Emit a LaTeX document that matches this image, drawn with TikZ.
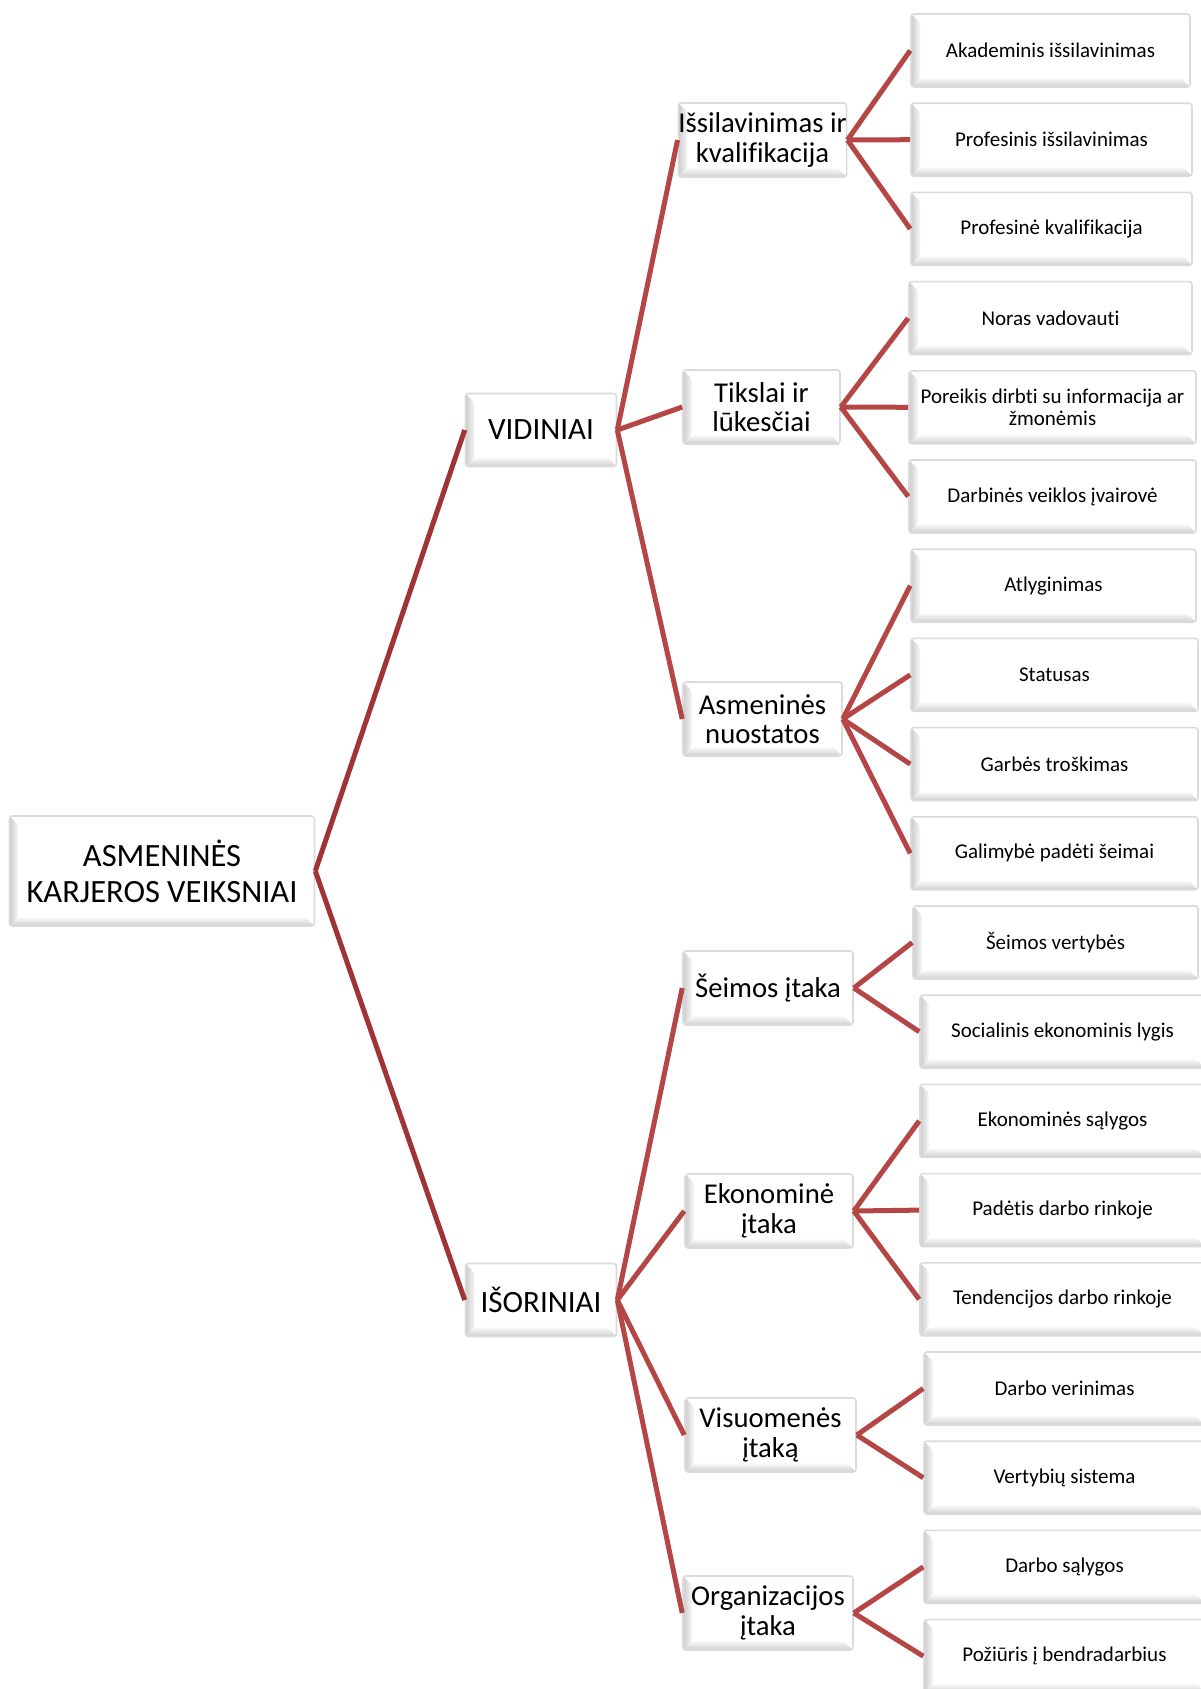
\documentclass[tikz,border=0pt]{standalone}
\usepackage{fontspec}
\setmainfont{Carlito}[Ligatures=NoCommon]
\definecolor{lnA}{RGB}{158,52,52}
\definecolor{lnB}{RGB}{180,70,70}
\tikzset{
  bevel/.style={rounded corners=3pt, draw=gray!28, line width=1.6pt, fill=white,
    inner sep=0pt, align=center, text=black,
    path picture={
      \path (path picture bounding box.south west) coordinate (bsw)
            (path picture bounding box.north east) coordinate (bne)
            (path picture bounding box.north west) coordinate (bnw)
            (path picture bounding box.south east) coordinate (bse);
      \shade[left color=gray!40, right color=gray!6]
        (bnw) -- (bsw) -- ([shift={(9pt,9pt)}]bsw) -- ([shift={(9pt,-9pt)}]bnw) -- cycle;
      \shade[bottom color=gray!38, top color=gray!4]
        (bsw) -- (bse) -- ([shift={(-9pt,9pt)}]bse) -- ([shift={(9pt,9pt)}]bsw) -- cycle;
    }},
  rootbox/.style={bevel, minimum width=305pt, minimum height=110pt,
    font=\fontsize{32.5}{36}\selectfont},
  lvlone/.style={bevel, minimum height=73pt, font=\fontsize{31}{34}\selectfont},
  lvltwo/.style={bevel, minimum height=74pt, font=\fontsize{28.7}{29.5}\selectfont},
  leafbox/.style={bevel, minimum height=73pt, font=\fontsize{21}{22}\selectfont},
  linkA/.style={draw=lnA, line width=5pt},
  linkB/.style={draw=lnB, line width=5pt},
}
\begin{document}
\begin{tikzpicture}[x=1pt, y=-1pt]
\useasboundingbox (0,0) rectangle (1201,1689);
\fill[white] (0,0) rectangle (1201,1689);

% root
\node[rootbox] (root) at (162,871) {ASMENINĖS\\KARJEROS VEIKSNIAI};

% level 1
\node[lvlone, minimum width=151pt] (vid) at (541,430) {VIDINIAI};
\node[lvlone, minimum width=151pt] (iso) at (541,1300) {IŠORINIAI};

% level 2
\node[lvltwo, minimum width=159pt] (isl) at (762.5,140) {Išsilavinimas ir\\kvalifikacija};
\node[lvltwo, minimum width=157pt] (tik) at (761.5,407) {Tikslai ir\\lūkesčiai};
\node[lvltwo, minimum width=159pt] (asm) at (762.5,719) {Asmeninės\\nuostatos};
\node[lvltwo, minimum width=170pt] (sei) at (768,988) {Šeimos įtaka};
\node[lvltwo, minimum width=168pt] (eko) at (769,1211) {Ekonominė\\įtaka};
\node[lvltwo, minimum width=171pt] (vis) at (770.5,1435) {Visuomenės\\įtaką};
\node[lvltwo, minimum width=170pt] (org) at (768,1613) {Organizacijos\\įtaka};

% leaves
\node[leafbox, minimum width=279pt] (l0) at (1050.5,50.5) {Akademinis išsilavinimas};
\node[leafbox, minimum width=281pt] (l1) at (1051.5,139.7) {Profesinis išsilavinimas};
\node[leafbox, minimum width=281pt] (l2) at (1051.5,228.9) {Profesinė kvalifikacija};
\node[leafbox, minimum width=283pt] (l3) at (1050.5,318.1) {Noras vadovauti};
\node[leafbox, minimum width=287pt] (l4) at (1052.5,407.3) {Poreikis dirbti su informacija ar\\žmonėmis};
\node[leafbox, minimum width=287pt] (l5) at (1052.5,496.5) {Darbinės veiklos įvairovė};
\node[leafbox, minimum width=285pt] (l6) at (1053.5,585.7) {Atlyginimas};
\node[leafbox, minimum width=287pt] (l7) at (1054.5,674.9) {Statusas};
\node[leafbox, minimum width=287pt] (l8) at (1054.5,764.1) {Garbės troškimas};
\node[leafbox, minimum width=287pt] (l9) at (1054.5,853.3) {Galimybė padėti šeimai};
\node[leafbox, minimum width=285pt] (l10) at (1055.5,942.5) {Šeimos vertybės};
\node[leafbox, minimum width=285pt] (l11) at (1062.5,1031.7) {Socialinis ekonominis lygis};
\node[leafbox, minimum width=285pt] (l12) at (1062.5,1120.9) {Ekonominės sąlygos};
\node[leafbox, minimum width=285pt] (l13) at (1062.5,1210.1) {Padėtis darbo rinkoje};
\node[leafbox, minimum width=285pt] (l14) at (1062.5,1299.3) {Tendencijos darbo rinkoje};
\node[leafbox, minimum width=281pt] (l15) at (1064.5,1388.5) {Darbo verinimas};
\node[leafbox, minimum width=281pt] (l16) at (1064.5,1477.7) {Vertybių sistema};
\node[leafbox, minimum width=281pt] (l17) at (1064.5,1566.9) {Darbo sąlygos};
\node[leafbox, minimum width=281pt] (l18) at (1064.5,1656.1) {Požiūris į bendradarbius};

% connectors
\draw[linkA] (root.east) -- (vid.west);
\draw[linkA] (root.east) -- (iso.west);

\foreach \c in {isl,tik,asm} \draw[linkB] (vid.east) -- (\c.west);
\foreach \c in {sei,eko,vis,org} \draw[linkB] (iso.east) -- (\c.west);

\foreach \c in {l0,l1,l2} \draw[linkB] (isl.east) -- (\c.west);
\foreach \c in {l3,l4,l5} \draw[linkB] (tik.east) -- (\c.west);
\foreach \c in {l6,l7,l8,l9} \draw[linkB] (asm.east) -- (\c.west);
\foreach \c in {l10,l11} \draw[linkB] (sei.east) -- (\c.west);
\foreach \c in {l12,l13,l14} \draw[linkB] (eko.east) -- (\c.west);
\foreach \c in {l15,l16} \draw[linkB] (vis.east) -- (\c.west);
\foreach \c in {l17,l18} \draw[linkB] (org.east) -- (\c.west);
\end{tikzpicture}
\end{document}
